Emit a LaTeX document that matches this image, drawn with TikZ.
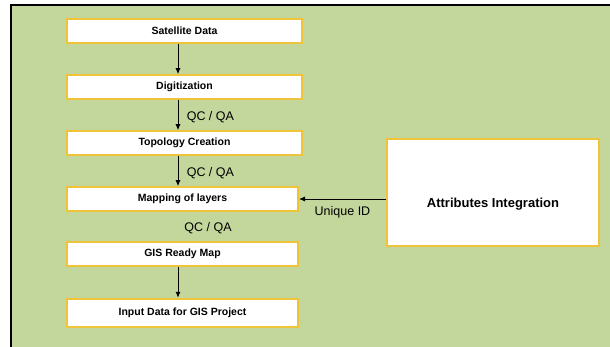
\documentclass[tikz,border=0pt]{standalone}
\usepackage{fontspec}
\setmainfont{Liberation Sans}
\usetikzlibrary{arrows.meta, positioning}
\definecolor{bggreen}{HTML}{C3D69B}
\definecolor{boxgold}{HTML}{F0C43A}

\begin{document}
\begin{tikzpicture}[x=1pt, y=-1pt,
    stage/.style={draw=boxgold, fill=white, line width=2pt, rectangle, minimum width=235pt, minimum height=23.5pt, inner sep=0pt, font=\bfseries\fontsize{10.5}{12}\selectfont},
    qc/.style={font=\fontsize{12.5}{14}\selectfont},
    flow/.style={-{Latex[length=6pt, width=5pt]}, line width=0.9pt}]
    \useasboundingbox (0,0) rectangle (610,347);
    \fill[bggreen] (11,5) rectangle (610,347);
    \draw[line width=1.2pt] (11,347) -- (11,5) -- (610,5);

    \node[stage] (sat) at (184.5,31) {Satellite Data};
    \node[stage, below=30.5pt of sat] (dig) {Digitization};
    \node[stage, below=30.5pt of dig] (topo) {Topology Creation};
    \node[stage, minimum width=231pt, below=30.5pt of topo, xshift=-2pt] (map) {Mapping of layers};
    \node[stage, minimum width=231pt, below=29.5pt of map] (gis) {GIS Ready Map};
    \node[stage, minimum width=231pt, minimum height=28pt, below=31pt of gis] (input) {Input Data for GIS Project};
    \node[stage, minimum width=212pt, minimum height=107pt, text height=30pt, text depth=0pt, font=\bfseries\fontsize{13}{15}\selectfont] (attr) at (493,192.5) {Attributes Integration};

    \draw[flow] ([xshift=-6.5pt]sat.south) -- ([xshift=-6.5pt]dig.north);
    \draw[flow] ([xshift=-6.5pt]dig.south) -- ([xshift=-6.5pt]topo.north) node[qc, midway, right=5pt, yshift=-2pt] (qc1) {QC / QA};
    \draw[flow] ([xshift=-6.5pt]topo.south) -- ([xshift=-4.5pt]map.north) node[qc, midway, right=5pt, yshift=-2pt] (qc2) {QC / QA};
    \node[qc] (qc3) at (208,228) {QC / QA};
    \draw[flow] ([xshift=-4.5pt]gis.south) -- ([xshift=-4.5pt]input.north);

    \draw[flow] (attr.west |- map.east) -- (map.east) node[qc, midway, below=4pt] (uid) {Unique ID};
\end{tikzpicture}
\end{document}
